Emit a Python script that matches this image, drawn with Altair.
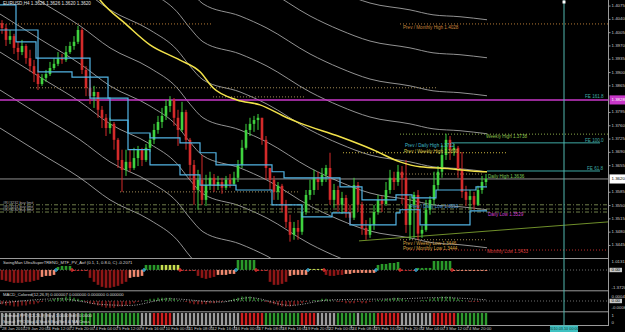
import altair as alt
import pandas as pd

FONT = "Liberation Sans"

# ---------------- EURUSD H4 candles ----------------
first_open = 1.4030
close = [1.4017, 1.3986, 1.3996, 1.3965, 1.3954, 1.3970, 1.3938, 1.3917, 1.3896, 1.3870,
         1.3886, 1.3896, 1.3912, 1.3923, 1.3938, 1.3933, 1.3954, 1.3970, 1.3981, 1.4012,
         1.3907, 1.3860, 1.3838, 1.3849, 1.3802, 1.3781, 1.3754, 1.3765, 1.3723, 1.3670,
         1.3644, 1.3665, 1.3649, 1.3675, 1.3697, 1.3670, 1.3702, 1.3723, 1.3749, 1.3770,
         1.3786, 1.3812, 1.3828, 1.3781, 1.3749, 1.3796, 1.3723, 1.3657, 1.3591, 1.3618,
         1.3565, 1.3604, 1.3623, 1.3602, 1.3612, 1.3597, 1.3618, 1.3607, 1.3623, 1.3657,
         1.3702, 1.3749, 1.3765, 1.3775, 1.3781, 1.3723, 1.3649, 1.3618, 1.3586, 1.3602,
         1.3552, 1.3507, 1.3473, 1.3491, 1.3481, 1.3533, 1.3578, 1.3591, 1.3623, 1.3612,
         1.3631, 1.3649, 1.3565, 1.3591, 1.3552, 1.3570, 1.3533, 1.3518, 1.3604, 1.3552,
         1.3491, 1.3473, 1.3499, 1.3533, 1.3565, 1.3554, 1.3591, 1.3623, 1.3612, 1.3639,
         1.3623, 1.3499, 1.3552, 1.3578, 1.3476, 1.3486, 1.3539, 1.3565, 1.3604, 1.3639,
         1.3683, 1.3723, 1.3697, 1.3702, 1.3644, 1.3586, 1.3565, 1.3575, 1.3552, 1.3591,
         1.3612, 1.3620]
high = [1.4038, 1.4028, 1.4012, 1.4002, 1.3981, 1.3986, 1.3975, 1.3960, 1.3933, 1.3907,
        1.3896, 1.3907, 1.3928, 1.3938, 1.3954, 1.3949, 1.3970, 1.3981, 1.3996, 1.4023,
        1.4017, 1.3917, 1.3881, 1.3865, 1.3849, 1.3812, 1.3791, 1.3781, 1.3770, 1.3728,
        1.3697, 1.3697, 1.3697, 1.3702, 1.3707, 1.3702, 1.3712, 1.3739, 1.3765, 1.3786,
        1.3807, 1.3828, 1.3838, 1.3833, 1.3802, 1.3823, 1.3802, 1.3728, 1.3670, 1.3644,
        1.3683, 1.3631, 1.3639, 1.3633, 1.3628, 1.3623, 1.3628, 1.3633, 1.3639, 1.3670,
        1.3723, 1.3765, 1.3781, 1.3786, 1.3791, 1.3781, 1.3733, 1.3649, 1.3628, 1.3612,
        1.3607, 1.3565, 1.3526, 1.3507, 1.3512, 1.3552, 1.3591, 1.3618, 1.3644, 1.3639,
        1.3649, 1.3657, 1.3689, 1.3607, 1.3602, 1.3586, 1.3578, 1.3552, 1.3623, 1.3612,
        1.3560, 1.3512, 1.3518, 1.3552, 1.3578, 1.3575, 1.3612, 1.3644, 1.3639, 1.3657,
        1.3654, 1.3670, 1.3575, 1.3586, 1.3591, 1.3497, 1.3565, 1.3575, 1.3639, 1.3654,
        1.3710, 1.3739, 1.3733, 1.3712, 1.3707, 1.3691, 1.3602, 1.3591, 1.3586, 1.3602,
        1.3628, 1.3633]
low = [1.4002, 1.3970, 1.3975, 1.3949, 1.3933, 1.3946, 1.3923, 1.3902, 1.3875, 1.3854,
       1.3865, 1.3875, 1.3891, 1.3907, 1.3917, 1.3923, 1.3928, 1.3949, 1.3960, 1.3975,
       1.3896, 1.3838, 1.3817, 1.3807, 1.3781, 1.3754, 1.3733, 1.3739, 1.3697, 1.3649,
       1.3586, 1.3628, 1.3639, 1.3644, 1.3654, 1.3654, 1.3665, 1.3691, 1.3712, 1.3739,
       1.3754, 1.3775, 1.3796, 1.3760, 1.3707, 1.3744, 1.3697, 1.3618, 1.3552, 1.3539,
       1.3552, 1.3549, 1.3591, 1.3586, 1.3591, 1.3581, 1.3591, 1.3597, 1.3602, 1.3612,
       1.3649, 1.3697, 1.3733, 1.3744, 1.3749, 1.3710, 1.3618, 1.3591, 1.3565, 1.3565,
       1.3533, 1.3491, 1.3455, 1.3460, 1.3460, 1.3473, 1.3526, 1.3565, 1.3578, 1.3591,
       1.3602, 1.3612, 1.3552, 1.3544, 1.3533, 1.3528, 1.3518, 1.3499, 1.3512, 1.3533,
       1.3473, 1.3460, 1.3465, 1.3486, 1.3526, 1.3533, 1.3549, 1.3581, 1.3591, 1.3602,
       1.3554, 1.3478, 1.3460, 1.3465, 1.3460, 1.3465, 1.3481, 1.3526, 1.3552, 1.3591,
       1.3623, 1.3670, 1.3670, 1.3681, 1.3623, 1.3570, 1.3549, 1.3539, 1.3539, 1.3549,
       1.3581, 1.3602]

# ---------------- blue step lines ----------------
upper_b = [-0.5, 3.5, 8.5, 22, 26.5, 31.5, 37, 44.5, 49.5, 53.5, 67.5, 70.5, 84.5, 90, 98.5, 102.5, 108.5, 118.5, 121.25]
upper_p = [1.4078, 1.3981, 1.3938, 1.3888, 1.3833, 1.3741, 1.3728, 1.3715, 1.3689, 1.3657, 1.3639, 1.3623, 1.3599, 1.3565, 1.3578, 1.3570, 1.3591, 1.3599, 1.3599]
lower_b = [-0.5, 9, 17.5, 22, 27, 31.5, 37, 44.5, 49.5, 58.5, 67.5, 75, 82.5, 87, 98.5, 99.5, 104.5, 117, 121.25]
lower_p = [1.4012, 1.3902, 1.3888, 1.3833, 1.3775, 1.3697, 1.3657, 1.3631, 1.3604, 1.3591, 1.3552, 1.3520, 1.3531, 1.3499, 1.3531, 1.3539, 1.3499, 1.3536, 1.3536]

# ---------------- yellow moving average ----------------
ma_b = [23.5, 24.5, 31.25, 37, 44.5, 49.5, 52.75, 58.75, 64.5, 71.25, 74.5, 84.5, 92.75, 99.5, 104.5, 112, 120.25, 121.25]
ma_p = [1.4105, 1.4091, 1.4025, 1.3973, 1.3933, 1.3902, 1.3860, 1.3828, 1.3815, 1.3781, 1.3767, 1.3731, 1.3697, 1.3665, 1.3652, 1.3647, 1.3639, 1.3639]

# ---------------- grey envelope family ----------------
env_b = [-0.5, 9.5, 19.5, 27, 37, 43.75, 47, 50.25, 59.5, 66.25, 77, 84.5, 92, 102, 107.75, 114.5, 121.25]
env_p = [1.4154, 1.4088, 1.4023, 1.3965, 1.3912, 1.3860, 1.3817, 1.3781, 1.3749, 1.3717, 1.3649, 1.3612, 1.3583, 1.3565, 1.3552, 1.3547, 1.3539]
env_shift = [0.05, 0.04, 0.03, 0.02, 0.01, 0.0, -0.01, -0.02, -0.03, -0.04]

# ---------------- horizontal levels ----------------
orange_lv_p = [1.4028, 1.4028]
orange_lv_b1 = [-0.5, 99.5]
orange_lv_b2 = [52.75, 151.5]
tan_lv_p = [1.3860, 1.3836, 1.3633, 1.3586, 1.3460]
tan_lv_b1 = [7, 52.75, 99.5, 29.5, 99.5]
tan_lv_b2 = [108.75, 75.75, 120.25, 74.5, 121.25]
yellow_lv_p = [1.3689]
yellow_lv_b1 = [85.25]
yellow_lv_b2 = [126.25]
green_lv_p = [1.3738]
green_lv_b1 = [99.5]
green_lv_b2 = [151.5]
red_lv_p = [1.3433]
red_lv_b1 = [101.25]
red_lv_b2 = [151.5]
fe_p = [1.3715, 1.3641]
fe_b1 = [112, 121.25]
fe_b2 = [149.5, 149.5]
order_p = [1.3552, 1.3541, 1.3533]
order_text = ["#R#3232 buy limit", "#R#3231 buy limit", "#R#3230 buy limit"]
trend_b = [89.25, 151.5]
trend_p = [1.3457, 1.3507]
magenta_level = 1.3828
last_price = 1.3620

ann_b = [100.25, 145.75, 121.0, 145.75, 100.75, 100.5, 146.25, 121.5, 102.0, 121.5, 100.25, 100.25, 121.25]
ann_p = [1.4017, 1.3836, 1.3731, 1.3721, 1.3707, 1.3690, 1.3647, 1.3626, 1.3547, 1.3526, 1.3448, 1.3435, 1.3427]
ann_t = ["Prev / Monthly High 1.4028", "FE 161.8", "Weekly High 1.3738", "FE 100.0",
         "Prev / Daily High 1.3712", "Prev / Weekly High 1.3690", "FE 61.8", "Daily High 1.3636",
         "Prev / Daily Low 1.3553", "Daily Low 1.3529", "Prev / Weekly Low 1.3446",
         "Prev / Monthly Low 1.3444", "Monthly Low 1.3433"]
ann_c = ["#c8843a", "#3fa9a4", "#8cc04a", "#3fa9a4", "#3fb6c8", "#d6c24a", "#3fa9a4", "#7cc85a",
         "#4a9ad8", "#d040d0", "#d8a040", "#d8a040", "#d83a3a"]

# ---------------- right price axis ----------------
price_ticks = [1.4075, 1.4040, 1.4005, 1.3970, 1.3935, 1.3900, 1.3865, 1.3795, 1.3760,
               1.3725, 1.3690, 1.3655, 1.3585, 1.3550, 1.3515, 1.3480, 1.3445]

# ---------------- indicator panels ----------------
swing_vals = [-1.0, -1.1, -1.2, -1.3, -1.3, -1.3, -1.2, -1.2, -1.1, -1.0,
              -0.7, -0.6, -0.6, -0.5,
              0.3, 0.4, 0.4, 0.4,
              -0.1, -0.1, -0.1, -0.1,
              -0.8, -1.2, -1.5, -1.7, -1.8, -1.8, -1.7, -1.6, -1.4, -1.2,
              -0.8, -0.7, -0.7, -0.6,
              0.5, 0.5, 0.5, 0.5,
              0.5, 0.5, 0.5, 0.5, 0.5,
              -0.1, -0.1, -0.1, -0.1,
              -0.6, -0.8, -0.9, -0.8, -0.7,
              -0.5, -0.5, -0.5, -0.4, -0.4,
              1.0, 1.0, 1.0, 1.0, 1.0,
              -0.1, -0.1, -0.1,
              -1.2, -1.5, -1.5, -1.4, -1.2,
              -0.6, -0.5, -0.5, -0.5, -0.5,
              0.1, 0.1, 0.1, 0.1,
              -0.5, -0.6, -0.6, -0.5, -0.5,
              -0.4, -0.4, -0.3, -0.3, -0.3, -0.3, -0.3, -0.3,
              0.5, 0.6, 0.6, 0.7, 0.7, 0.8,
              -0.1, -0.1, -0.1, -0.1,
              0.2, 0.2, 0.2, 0.2,
              0.9, 0.9, 0.9, 0.9, 0.9,
              -0.1, -0.1, -0.1, -0.1, -0.1, -0.1, -0.1, -0.1, -0.1]
swing_kind = ("DDDDDDDDDD" "SSSS" "GGGG" "TTTT" "DDDDDDDDDD" "SSSS" "GGGG" "YYYYY" "TTTT"
              "DDDDD" "SSSSS" "GGGGG" "TTT" "DDDDD" "SSSSS" "YYYY" "DDDDD" "SSSSSSSS"
              "GGGGGG" "TTTT" "GGGG" "GGGGG" "SSSSSSSSS")
swing_up_marks = [13.5, 35.5, 58.5, 76.5, 93.5, 103.5]
swing_dn_marks = [17.5, 44.5, 63.5, 80.5, 99.5, 112.5]

macd_vals = [-3, -4, -4, -5, -5, -4, -4, -3, -3, -2,
             -1, 0, 1, 2, 3, 3, 4, 4, 3, 2,
             1, -1, -2, -3, -4, -5, -6, -6, -6, -5,
             -5, -4, -3, -2, -1, 0, 1, 2, 2, 3,
             3, 3, 3, 2, 1, 0, -1, -2, -3, -3,
             -3, -3, -2, -2, -1, -1, 0, 1, 2, 3,
             4, 4, 4, 3, 2, 1, -1, -2, -3, -4,
             -5, -5, -5, -4, -3, -2, -1, 0, 1, 1,
             2, 2, 1, 0, -1, -1, -2, -2, -2, -1,
             -2, -2, -1, 0, 1, 1, 2, 2, 3, 3,
             2, 1, 0, 0, 0, 1, 1, 2, 3, 3,
             4, 4, 4, 3, 2, 1, 0, -1, -1, -1, 0, 0]
macd_sig_b = [-0.5, 14.5, 24.5, 32, 42, 54.5, 62, 72, 82, 99.5, 109.5, 121.25]
macd_sig_v = [-2, 2, -3, -4, 2, -1, 3, -4, 1, 2, 3, 1]

strip_kind = ("gggggggggggggggggggg" "GGGGGGGGGGGGGGG" "ggg" "RRRRR" "ggggggggggggggggg"
              "RRRRRR" "GGGGGGGGG" "RRRR" "ggggg" "GGGGG" "g" "GGGG" "RRRRRR" "gggggggg"
              "RRRRRR" "GGGGGGGG")

# ---------------- time axis ----------------
time_labels = ["28 Jan 2010", "29 Jan 20:00", "1 Feb 12:00", "2 Feb 20:00", "4 Feb 04:00",
               "5 Feb 12:00", "8 Feb 16:00", "10 Feb 00:00", "11 Feb 08:00", "12 Feb 16:00",
               "16 Feb 00:00", "17 Feb 08:00", "18 Feb 16:00", "19 Feb 20:00", "22 Feb 00:00",
               "24 Feb 08:00", "25 Feb 16:00", "26 Feb 20:00", "2 Mar 04:00", "3 Mar 12:00",
               "4 Mar 20:00"]
marker_bar = 140.5
marker_label = "2010.03.10 00:00"
header = "EURUSD,H4  1.3626 1.3626 1.3620 1.3620"

# ======================================================================
UP, DN = "#3fd23f", "#d42a2a"
XS = alt.Scale(domain=[-0.5, 155.75], nice=False, zero=False)


def X(f="b"):
    return alt.X(f + ":Q", scale=XS, axis=None)


def Y(f, dom, rng):
    return alt.Y(f + ":Q", scale=alt.Scale(domain=dom, range=rng, nice=False, zero=False), axis=None)


PD, PR = [1.3412, 1.4091], [258, 0]
SD, SR = [-2.07, 1.1], [290.5, 259]
MD, MR = [-9.5, 8.6], [311.5, 291.5]


def YP(f="p"):
    return Y(f, PD, PR)


ONE = pd.DataFrame({"a": [0]})
layers = []

# grey envelopes
rows = []
for k, s in enumerate(env_shift):
    for b, p in zip(env_b, env_p):
        rows.append({"k": k, "b": b, "p": p + s})
layers.append(alt.Chart(pd.DataFrame(rows)).mark_line(color="#a3a3a3", strokeWidth=0.9, interpolate="monotone")
              .encode(x=X(), y=YP(), detail="k:N"))


def hseg(p, b1, b2, color, dash=None, w=1.0):
    df = pd.DataFrame({"p": p, "b": b1, "b2": b2})
    kw = dict(color=color, strokeWidth=w)
    if dash:
        kw["strokeDash"] = dash
    return alt.Chart(df).mark_rule(**kw).encode(x=X(), x2="b2", y=YP())


layers.append(hseg(orange_lv_p, orange_lv_b1, orange_lv_b2, "#b47a36", [1, 2]))
layers.append(hseg(tan_lv_p, tan_lv_b1, tan_lv_b2, "#a08a55", [1, 2]))
layers.append(hseg(yellow_lv_p, yellow_lv_b1, yellow_lv_b2, "#c8b440", [1, 2]))
layers.append(hseg(green_lv_p, green_lv_b1, green_lv_b2, "#8aa84a", [1, 2]))
layers.append(hseg(red_lv_p, red_lv_b1, red_lv_b2, "#c03030", [1, 2]))
layers.append(hseg(fe_p, fe_b1, fe_b2, "#3fa9a4", None, 1.0))
layers.append(hseg(order_p, [-0.5] * 3, [151.5] * 3, "#7c8c52", [4, 2, 1, 2], 0.9))
layers.append(hseg([magenta_level], [-0.5], [151.5], "#c837c8", None, 1.6))
layers.append(hseg([last_price], [-0.5], [151.5], "#b4b4b4", None, 0.8))

# trend line
layers.append(alt.Chart(pd.DataFrame({"b": trend_b, "p": trend_p})).mark_line(color="#6f8f2a", strokeWidth=1)
              .encode(x=X(), y=YP()))

# candles
opens = [first_open] + close[:-1]
cdf = pd.DataFrame({"b": list(range(len(close))), "o": opens, "c": close, "h": high, "l": low})
cdf["dir"] = ["up" if c >= o else "dn" for o, c in zip(opens, close)]
ccol = alt.Color("dir:N", scale=alt.Scale(domain=["up", "dn"], range=[UP, DN]), legend=None)
layers.append(alt.Chart(cdf).mark_rule(strokeWidth=1).encode(x=X(), y=YP("l"), y2="h", color=ccol))
layers.append(alt.Chart(cdf).mark_rule(strokeWidth=2.6).encode(x=X(), y=YP("o"), y2="c", color=ccol))

# blue step lines
for bb, pp in ((upper_b, upper_p), (lower_b, lower_p)):
    layers.append(alt.Chart(pd.DataFrame({"b": bb, "p": pp}))
                  .mark_line(color="#52b4e4", strokeWidth=1.2, interpolate="step-after")
                  .encode(x=X(), y=YP()))

# yellow MA
layers.append(alt.Chart(pd.DataFrame({"b": ma_b, "p": ma_p}))
              .mark_line(color="#f2e24a", strokeWidth=1.5, interpolate="monotone")
              .encode(x=X(), y=YP()))

# annotations
adf = pd.DataFrame({"b": ann_b, "p": ann_p, "t": ann_t, "col": ann_c})
layers.append(alt.Chart(adf).mark_text(align="left", baseline="middle", fontSize=4.6, font=FONT)
              .encode(x=X(), y=YP(), text="t:N", color=alt.Color("col:N", scale=None)))
odf = pd.DataFrame({"p": order_p, "t": order_text})
layers.append(alt.Chart(odf).mark_text(align="left", baseline="bottom", fontSize=3.8, font=FONT, color="#b0b0b0")
              .encode(x=alt.value(3), y=YP(), text="t:N"))
layers.append(alt.Chart(ONE).mark_text(align="left", baseline="middle", fontSize=4.6, font=FONT, color="#e0e0e0")
              .encode(x=alt.value(3), y=alt.value(4), text=alt.value(header)))

# mask below main panel
layers.append(alt.Chart(ONE).mark_rect(color="black")
              .encode(x=alt.value(0), x2=alt.value(625), y=alt.value(258.5), y2=alt.value(332)))

# ---- SwingMan panel
sdf = pd.DataFrame({"b": list(range(len(swing_vals))), "v": swing_vals, "k": list(swing_kind), "z": 0.0})
layers.append(alt.Chart(pd.DataFrame({"yy": [270]})).mark_rule(color="#8a8a8a", strokeDash=[1, 2], strokeWidth=0.8)
              .encode(x=alt.value(0), x2=alt.value(608), y=alt.Y("yy:Q", scale=None)))
layers.append(alt.Chart(sdf).mark_rule(strokeWidth=2.6).encode(
    x=X(), y=Y("v", SD, SR), y2="z",
    color=alt.Color("k:N", scale=alt.Scale(domain=["D", "S", "G", "Y", "T"],
                                           range=["#8e1616", "#f08a70", "#2a9a2a", "#c8e050", "#c83030"]),
                    legend=None)))
layers.append(alt.Chart(pd.DataFrame({"b": swing_up_marks, "z": 0.0})).mark_point(shape="cross", filled=True, size=16, color="#3ec8ff")
              .encode(x=X(), y=Y("z", SD, SR)))
layers.append(alt.Chart(pd.DataFrame({"b": swing_dn_marks, "z": 0.0})).mark_point(shape="cross", filled=True, size=16, color="#ff3030")
              .encode(x=X(), y=Y("z", SD, SR)))

# ---- MACD panel
mdf = pd.DataFrame({"b": list(range(len(macd_vals))), "v": macd_vals, "z": 0.0})
mdf["s"] = ["pos" if v >= 0 else "neg" for v in macd_vals]
layers.append(alt.Chart(pd.DataFrame({"yy": [301]})).mark_rule(color="#8a8a8a", strokeDash=[1, 2], strokeWidth=0.8)
              .encode(x=alt.value(0), x2=alt.value(608), y=alt.Y("yy:Q", scale=None)))
layers.append(alt.Chart(mdf).mark_rule(strokeWidth=1.3).encode(
    x=X(), y=Y("v", MD, MR), y2="z",
    color=alt.Color("s:N", scale=alt.Scale(domain=["pos", "neg"], range=["#2f8f2f", "#9a2020"]), legend=None)))
layers.append(alt.Chart(pd.DataFrame({"b": macd_sig_b, "v": macd_sig_v}))
              .mark_line(color="#d0d0d0", strokeDash=[1, 1.5], strokeWidth=0.8, interpolate="monotone")
              .encode(x=X(), y=Y("v", MD, MR)))

# ---- strip panel
tdf = pd.DataFrame({"b": list(range(len(strip_kind))), "k": list(strip_kind)})
layers.append(alt.Chart(tdf).mark_rule(strokeWidth=2.4).encode(
    x=X(), y=alt.value(313), y2=alt.value(325),
    color=alt.Color("k:N", scale=alt.Scale(domain=["g", "G", "R"], range=["#9c9c9c", "#2e9a2e", "#d02020"]), legend=None)))

# panel titles
ttl = pd.DataFrame({"yy": [262.5, 294.5, 316, 322],
                    "t": ["SwingMan UltraSuperTREND_MTF_PV_Aof (0.1, 1, 0.8.0, C) -0.2071",
                          "MACD_Colored(12,26,9) 0.000007 0.000000 0.000000 0.000000",
                          "Ultimate PPO(12,26,9) Buy: 1.0000 Sell: 0.0000",
                          "Signal: PPO Buy & Stoch Buy/Sell & MA Cross"]})
layers.append(alt.Chart(ttl).mark_text(align="left", baseline="middle", fontSize=4.2, font=FONT, color="#d8d8d8")
              .encode(x=alt.value(3), y=alt.Y("yy:Q", scale=None), text="t:N"))

# separators & right axis line
layers.append(alt.Chart(pd.DataFrame({"yy": [258.5, 290.8, 311.8, 325.5]})).mark_rule(color="#9a9a9a", strokeWidth=1)
              .encode(x=alt.value(0), x2=alt.value(609), y=alt.Y("yy:Q", scale=None)))
layers.append(alt.Chart(ONE).mark_rule(color="#9a9a9a", strokeWidth=1)
              .encode(x=alt.value(608.5), y=alt.value(0), y2=alt.value(325.5)))

# right price labels
pdf = pd.DataFrame({"p": price_ticks, "t": [f"{v:.4f}" for v in price_ticks]})
layers.append(alt.Chart(pdf).mark_rule(color="#9a9a9a").encode(x=alt.value(608), x2=alt.value(610.5), y=YP()))
layers.append(alt.Chart(pdf).mark_text(align="left", baseline="middle", fontSize=4.4, font=FONT, color="#c8c8c8")
              .encode(x=alt.value(611.5), y=YP(), text="t:N"))
bx = pd.DataFrame({"p1": [magenta_level + 0.0012, last_price + 0.0012],
                   "p2": [magenta_level - 0.0012, last_price - 0.0012],
                   "p": [magenta_level, last_price],
                   "t": [f"{magenta_level:.4f}", f"{last_price:.4f}"],
                   "bg": ["#c837c8", "#ffffff"], "fg": ["#ffffff", "#000000"]})
layers.append(alt.Chart(bx).mark_rect().encode(x=alt.value(609.5), x2=alt.value(625), y=YP("p1"), y2="p2",
                                               color=alt.Color("bg:N", scale=None)))
layers.append(alt.Chart(bx).mark_text(align="left", baseline="middle", fontSize=4.4, font=FONT)
              .encode(x=alt.value(611.5), y=YP(), text="t:N", color=alt.Color("fg:N", scale=None)))

# sub-panel labels
sl = pd.DataFrame({"v": [0.8, -1.8], "t": ["1.0131", "-1.3720"]})
layers.append(alt.Chart(sl).mark_text(align="left", baseline="middle", fontSize=4.4, font=FONT, color="#c8c8c8")
              .encode(x=alt.value(611.5), y=Y("v", SD, SR), text="t:N"))
ml = pd.DataFrame({"v": [4, -6], "t": ["0.0004", "-0.0006"]})
layers.append(alt.Chart(ml).mark_text(align="left", baseline="middle", fontSize=4.4, font=FONT, color="#c8c8c8")
              .encode(x=alt.value(611.5), y=Y("v", MD, MR), text="t:N"))
zb = pd.DataFrame({"yy": [270, 301]})
layers.append(alt.Chart(zb).mark_rect(color="#c8c8c8").encode(
    x=alt.value(609.5), x2=alt.value(622), y=alt.Y("yy:Q", scale=None), y2=alt.value(0)).transform_calculate(a="0")
    if False else
    alt.Chart(pd.DataFrame({"y1": [267.8, 298.8], "y2": [272.2, 303.2]})).mark_rect(color="#c8c8c8").encode(
        x=alt.value(609.5), x2=alt.value(622), y=alt.Y("y1:Q", scale=None), y2="y2:Q"))
layers.append(alt.Chart(zb).mark_text(align="left", baseline="middle", fontSize=4.4, font=FONT, color="#000000")
              .encode(x=alt.value(611.5), y=alt.Y("yy:Q", scale=None), text=alt.value("0.00")))
layers.append(alt.Chart(pd.DataFrame({"yy": [316, 323], "t": ["1", "0"]}))
              .mark_text(align="left", baseline="middle", fontSize=4.4, font=FONT, color="#c8c8c8")
              .encode(x=alt.value(611.5), y=alt.Y("yy:Q", scale=None), text="t:N"))

# time axis
tl = pd.DataFrame({"b": [k * 23.35 / 4 - 0.25 for k in range(len(time_labels))], "t": time_labels})
layers.append(alt.Chart(tl).mark_rule(color="#9a9a9a").encode(x=X(), y=alt.value(325.5), y2=alt.value(328)))
layers.append(alt.Chart(tl).mark_text(align="left", baseline="middle", fontSize=4.2, font=FONT, color="#c8c8c8", dx=1)
              .encode(x=X(), y=alt.value(329.3), text="t:N"))

# time marker (vertical cyan line)
vm = pd.DataFrame({"b": [marker_bar], "b1": [marker_bar - 3.5], "b2": [marker_bar + 3.5], "t": [marker_label]})
layers.append(alt.Chart(vm).mark_rule(color="#52b8b0", strokeWidth=1).encode(x=X(), y=alt.value(0), y2=alt.value(325.5)))
layers.append(alt.Chart(vm).mark_square(color="white", size=9, opacity=1).encode(x=X(), y=alt.value(2)))
layers.append(alt.Chart(vm).mark_rect(color="#3ec0c0").encode(x=X("b1"), x2="b2", y=alt.value(325.5), y2=alt.value(332)))
layers.append(alt.Chart(vm).mark_text(align="center", baseline="middle", fontSize=3.8, font=FONT, color="#103030")
              .encode(x=X(), y=alt.value(329), text="t:N"))

chart = (alt.layer(*layers)
         .resolve_scale(y="independent", color="independent")
         .properties(width=625, height=332, padding=0, background="black",
                     autosize=alt.AutoSizeParams(type="none"))
         .configure_view(stroke=None))

chart.save("out.html", embed_options={"renderer": "svg", "actions": False})
